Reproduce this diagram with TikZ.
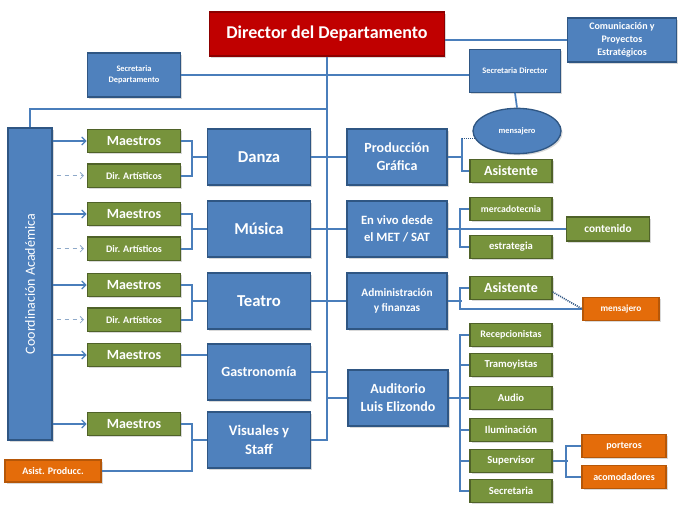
\documentclass[tikz,border=0pt]{standalone}
\usepackage{fontspec}
\setmainfont{Carlito}
\usetikzlibrary{arrows.meta,positioning,shapes.geometric,shadows,calc}
\definecolor{bluefill}{HTML}{4F81BD}
\definecolor{blueedge}{HTML}{2F5683}
\definecolor{greenfill}{HTML}{77933C}
\definecolor{greenedge}{HTML}{4F6228}
\definecolor{redfill}{HTML}{C00000}
\definecolor{rededge}{HTML}{8C0000}
\definecolor{orangefill}{HTML}{E46C0A}
\definecolor{orangeedge}{HTML}{B65708}
\definecolor{linecol}{HTML}{4A7EBB}
\definecolor{dashcol}{HTML}{8EA9C9}

\begin{document}
\begin{tikzpicture}[x=0.75pt, y=-0.75pt,
  fs/.style={font=\bfseries\linespread{1.3}\fontsize{#1}{#1}\selectfont},
  box/.style={rectangle, align=center, text=white, inner sep=1pt, line width=1pt,
    drop shadow={opacity=0.3, shadow xshift=1.2pt, shadow yshift=-1.2pt}},
  bluebox/.style={box, fill=bluefill, draw=blueedge},
  greenbox/.style={box, fill=greenfill, draw=greenedge},
  redbox/.style={box, fill=redfill, draw=rededge},
  orangebox/.style={box, fill=orangefill, draw=orangeedge},
  dept/.style={bluebox, minimum width=77pt, minimum height=42pt},
  unit/.style={bluebox, minimum width=75pt, minimum height=42pt},
  teach/.style={greenbox, minimum width=70pt, minimum height=17.5pt},
  staff/.style={greenbox, minimum width=61.5pt, minimum height=17.5pt, fs=8},
  ln/.style={draw=linecol, line width=1.3pt},
  arr/.style={ln, line width=1pt, -{Straight Barb[length=3pt, width=6pt]}},
  darr/.style={draw=dashcol, line width=0.6pt, dashed, -{Straight Barb[length=2.5pt, width=5pt]}},
  dotln/.style={draw=blueedge, line width=1.2pt, dash pattern=on 0.8pt off 0.8pt}]
  \useasboundingbox (0,0) rectangle (687,510);

  % top row
  \node[redbox, minimum width=176pt, minimum height=33pt, fs=13.5] (dir) at (327,34) {Director del Departamento};
  \node[bluebox, minimum width=82pt, minimum height=33pt, fs=7.5] (com) at (622,40) {Comunicación y\\Proyectos\\Estratégicos};
  \node[bluebox, minimum width=70pt, minimum height=33pt, fs=6.3] (sdep) at (134,75) {Secretaria\\Departamento};
  \node[bluebox, minimum width=68pt, minimum height=32pt, fs=6.3] (sdir) at (515,71) {Secretaria Director};
  \node[ellipse, fill=bluefill, draw=blueedge, line width=1pt, text=white, inner sep=0pt,
    minimum width=66pt, minimum height=34pt, fs=6.3,
    drop shadow={opacity=0.3, shadow xshift=1.2pt, shadow yshift=-1.2pt}] (mens) at (517,131) {mensajero};

  % left column
  \node[bluebox, minimum width=33pt, minimum height=234pt,
    font=\fontsize{10.5}{10.5}\selectfont] (coord) at (30,284) {\rotatebox{90}{Coordinación Académica}};

  \node[teach, fs=10.5] (m1) at (134,141) {Maestros};
  \node[teach, fs=7.5, below=7.5pt of m1] (d1) {Dir. Artísticos};
  \node[teach, fs=10.5] (m2) at (134,214) {Maestros};
  \node[teach, fs=7.5, below=7.5pt of m2] (d2) {Dir. Artísticos};
  \node[teach, fs=10.5] (m3) at (134,285) {Maestros};
  \node[teach, fs=7.5, below=7.5pt of m3] (d3) {Dir. Artísticos};
  \node[teach, fs=10.5] (m4) at (134,355) {Maestros};
  \node[teach, fs=10.5] (m5) at (134,424) {Maestros};
  \node[orangebox, minimum width=72pt, minimum height=16.5pt, fs=7.5] (asp) at (53,471) {Asist. Producc.};

  \node[dept, fs=12.5] (danza) at (259,157) {Danza};
  \node[dept, fs=12.5] (musica) at (259,229) {Música};
  \node[dept, fs=12.5] (teatro) at (259,301) {Teatro};
  \node[dept, fs=10.5] (gas) at (259,372) {Gastronomía};
  \node[dept, fs=11] (vis) at (259,440) {Visuales y\\Staff};

  % right column
  \node[unit, fs=10.5] (pg) at (397,157) {Producción\\Gráfica};
  \node[unit, fs=9.5] (env) at (397,229) {En vivo desde\\el MET / SAT};
  \node[unit, fs=8.5] (adm) at (397,301) {Administración\\y finanzas};
  \node[unit, fs=10.5] (aud) at (398,398) {Auditorio\\Luis Elizondo};

  \node[staff, fs=10.5] (asis1) at (511,171) {Asistente};
  \node[staff, fs=7.3] (merc) at (511,209) {mercadotecnia};
  \node[staff] (estr) at (511,247) {estrategia};
  \node[greenbox, minimum width=62pt, minimum height=18pt, fs=8.5] (cont) at (608,229) {contenido};
  \node[staff, fs=10.5] (asis2) at (511,288) {Asistente};
  \node[orangebox, minimum width=57pt, minimum height=17pt, fs=7] (morg) at (621,309) {mensajero};

  \node[staff, fs=7.5] (rec) at (511,335) {Recepcionistas};
  \node[staff] (tra) at (511,365) {Tramoyistas};
  \node[staff] (audio) at (511,398) {Audio};
  \node[staff] (ilu) at (511,430) {Iluminación};
  \node[staff] (sup) at (511,461) {Supervisor};
  \node[staff] (secr) at (511,491) {Secretaria};
  \node[orangebox, minimum width=63pt, minimum height=17pt, fs=7.5] (port) at (624,446) {porteros};
  \node[orangebox, minimum width=63pt, minimum height=17pt, fs=7.5] (acom) at (624,477) {acomodadores};

  % trunk and top links
  \draw[ln] (dir.south) |- (vis.east);
  \draw[ln] (com.west) -- (com.west -| dir.east);
  \draw[ln] (sdep.east) -- (sdep.east -| sdir.west);
  \draw[ln] (coord.north) -- ++(0,-18) -| (dir.south);
  \draw[ln] (sdir.south) -- (mens.north);

  % coordinacion to teachers
  \foreach \m in {m1,m2,m3,m4,m5}
    \draw[arr] (coord.east |- \m.west) -- (\m.west);
  \foreach \d in {d1,d2,d3}
    \draw[darr] ([xshift=3pt]coord.east |- \d.west) -- ([xshift=-2pt]\d.west);

  % teachers to departments
  \foreach \m/\d/\b in {m1/d1/danza, m2/d2/musica, m3/d3/teatro} {
    \draw[ln] (\m.east) -- ++(11,0) |- (\d.east);
    \draw[ln] (\b.west) -- ++(-16,0);
  }
  \draw[ln] (m4.east) -- (m4.east -| gas.west);
  \draw[ln] (m5.east) -- ++(11,0) |- (asp.east);
  \draw[ln] (vis.west) -- ++(-16,0);

  % departments across the trunk
  \draw[ln] (danza.east) -- (pg.west);
  \draw[ln] (musica.east) -- (env.west);
  \draw[ln] (teatro.east) -- (adm.west);
  \draw[ln] (gas.east) -- (gas.east -| dir.south);
  \draw[ln] (aud.west) -- (aud.west -| dir.south);

  % right side branches
  \draw[ln] (pg.east) -- ++(14,0) coordinate (pgb);
  \draw[ln] (asis1.west) -| (pgb |- mens.190);
  \draw[dotln] (pgb |- mens.190) -- (mens.190);
  \draw[ln] (env.east) -- (cont.west);
  \draw[ln] (merc.west) -- ++(-9,0) |- (estr.west);
  \draw[ln] (adm.east) -- ++(14,0);
  \draw[ln] (asis2.west) -- ++(-9,0) |- (morg.west);
  \draw[dotln] ([yshift=-3pt]asis2.east) -- (morg.west);
  \draw[ln] (rec.west) -- ++(-9,0) coordinate (busT) |- (secr.west);
  \foreach \n in {tra,audio,ilu,sup}
    \draw[ln] (\n.west) -- ++(-9,0);
  \draw[ln] (aud.east) -- (aud.east -| busT);
  \draw[ln] (port.west) -- ++(-15,0) |- (acom.west);
  \draw[ln] (sup.east) -- ++(15,0);
\end{tikzpicture}
\end{document}
